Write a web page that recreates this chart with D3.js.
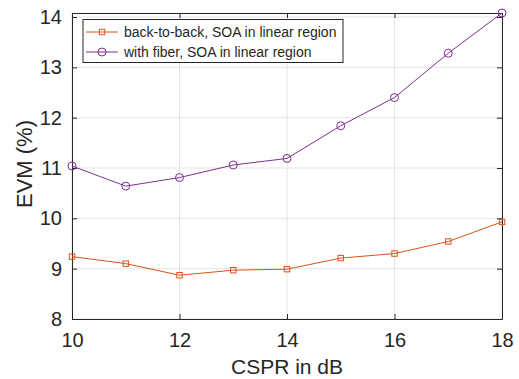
<!DOCTYPE html>
<html>
<head>
<meta charset="utf-8">
<script src="https://cdn.jsdelivr.net/npm/d3@7"></script>
<style>
  body { margin: 0; background: #fff; }
  text { font-family: Arial, "Liberation Sans", sans-serif; fill: #262626; }
</style>
</head>
<body>
<div id="chart"></div>
<script>
const cspr = [10, 11, 12, 13, 14, 15, 16, 17, 18];
const evmBackToBack = [9.24, 9.10, 8.87, 8.97, 8.99, 9.21, 9.30, 9.54, 9.93];
const evmWithFiber = [11.04, 10.64, 10.81, 11.06, 11.19, 11.84, 12.40, 13.28, 14.08];
const xTicks = [10, 12, 14, 16, 18];
const yTicks = [8, 9, 10, 11, 12, 13, 14];
const seriesNames = ['back-to-back, SOA in linear region', 'with fiber, SOA in linear region'];

const W = 519, H = 379;
const margin = { top: 13, right: 17, bottom: 60, left: 72 };
const width = W - margin.left - margin.right;
const height = H - margin.top - margin.bottom;

const svg = d3.select('#chart').append('svg')
  .attr('width', W).attr('height', H)
  .append('g')
  .attr('transform', `translate(${margin.left},${margin.top})`);

const x = d3.scaleLinear().domain([10, 18]).range([0, width]);
const y = d3.scaleLinear().domain([8, 14.08]).range([height, 0]);

// grid
svg.append('g').selectAll('line').data(xTicks).enter().append('line')
  .attr('x1', d => x(d)).attr('x2', d => x(d))
  .attr('y1', 0).attr('y2', height)
  .attr('stroke', '#e5e5e5').attr('stroke-width', 1);
svg.append('g').selectAll('line').data(yTicks).enter().append('line')
  .attr('x1', 0).attr('x2', width)
  .attr('y1', d => y(d)).attr('y2', d => y(d))
  .attr('stroke', '#e5e5e5').attr('stroke-width', 1);

// axes (box with inward ticks)
const axisColor = '#262626';
const styleAxis = g => {
  g.select('.domain').attr('stroke', axisColor);
  g.selectAll('.tick line').attr('stroke', axisColor);
  g.selectAll('.tick text').attr('fill', axisColor)
    .style('font-family', 'Arial, "Liberation Sans", sans-serif')
    .style('font-size', '20px');
};

svg.append('g')
  .attr('transform', `translate(0,${height})`)
  .call(d3.axisBottom(x).tickValues(xTicks).tickFormat(d3.format('d'))
    .tickSizeInner(-5).tickSizeOuter(0).tickPadding(14))
  .call(styleAxis);
svg.append('g')
  .call(d3.axisLeft(y).tickValues(yTicks).tickFormat(d3.format('d'))
    .tickSizeInner(-5).tickSizeOuter(0).tickPadding(10))
  .call(styleAxis);
svg.append('g')
  .call(d3.axisTop(x).tickValues(xTicks).tickSizeInner(-5).tickSizeOuter(0).tickFormat(''))
  .call(styleAxis);
svg.append('g')
  .attr('transform', `translate(${width},0)`)
  .call(d3.axisRight(y).tickValues(yTicks).tickSizeInner(-5).tickSizeOuter(0).tickFormat(''))
  .call(styleAxis);

// axis labels
svg.append('text')
  .attr('x', width / 2).attr('y', height + 55)
  .attr('text-anchor', 'middle')
  .style('font-size', '21px')
  .text('CSPR in dB');
svg.append('text')
  .attr('transform', `translate(${-40},${height / 2 - 2}) rotate(-90)`)
  .attr('text-anchor', 'middle')
  .style('font-size', '22px')
  .text('EVM (%)');

const colors = ['#D95319', '#7E2F8E'];
const series = [evmBackToBack, evmWithFiber];

const line = d3.line().x((d, i) => x(cspr[i])).y(d => y(d));

series.forEach((vals, k) => {
  svg.append('path').datum(vals)
    .attr('d', line)
    .attr('fill', 'none')
    .attr('stroke', colors[k])
    .attr('stroke-width', 1);
  if (k === 0) {
    svg.append('g').selectAll('rect').data(vals).enter().append('rect')
      .attr('x', (d, i) => x(cspr[i]) - 2.7)
      .attr('y', d => y(d) - 2.7)
      .attr('width', 5.4).attr('height', 5.4)
      .attr('fill', 'none').attr('stroke', colors[k]).attr('stroke-width', 1);
  } else {
    svg.append('g').selectAll('circle').data(vals).enter().append('circle')
      .attr('cx', (d, i) => x(cspr[i]))
      .attr('cy', d => y(d))
      .attr('r', 4)
      .attr('fill', 'none').attr('stroke', colors[k]).attr('stroke-width', 1);
  }
});

// legend
const legend = svg.append('g').attr('transform', 'translate(11,6.5)');
legend.append('rect')
  .attr('x', 0).attr('y', 0)
  .attr('width', 260).attr('height', 43)
  .attr('fill', '#fff').attr('stroke', axisColor).attr('stroke-width', 1);
seriesNames.forEach((name, k) => {
  const ly = 12.5 + k * 20;
  legend.append('line')
    .attr('x1', 3).attr('x2', 35).attr('y1', ly).attr('y2', ly)
    .attr('stroke', colors[k]).attr('stroke-width', 1);
  if (k === 0) {
    legend.append('rect')
      .attr('x', 19 - 2.7).attr('y', ly - 2.7).attr('width', 5.4).attr('height', 5.4)
      .attr('fill', 'none').attr('stroke', colors[k]);
  } else {
    legend.append('circle')
      .attr('cx', 19).attr('cy', ly).attr('r', 4)
      .attr('fill', 'none').attr('stroke', colors[k]);
  }
  legend.append('text')
    .attr('x', 41).attr('y', ly + 5)
    .style('font-size', '14px')
    .text(name);
});
</script>
</body>
</html>
